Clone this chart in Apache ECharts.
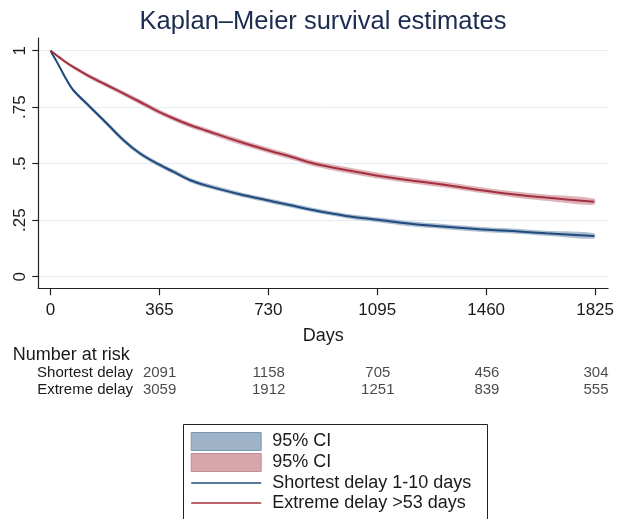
<!DOCTYPE html>
<html><head><meta charset="utf-8">
<script src="https://cdn.jsdelivr.net/npm/echarts@6/dist/echarts.min.js"></script>
<style>html,body{margin:0;padding:0;background:#fff}#c{width:617px;height:519px}</style>
</head><body><div id="c"></div>
<script>
// ---- data ----
const days = [0, 15, 32, 48, 76, 132, 188, 244, 299, 355, 411, 467, 523, 634, 745, 801, 879, 991, 1102, 1214, 1325, 1437, 1548, 1660, 1822];
const survShort = [1, 0.965, 0.925, 0.885, 0.826, 0.752, 0.679, 0.605, 0.546, 0.502, 0.465, 0.428, 0.403, 0.365, 0.333, 0.317, 0.295, 0.269, 0.251, 0.233, 0.221, 0.210, 0.202, 0.192, 0.180];
const ciLoShort = [1, 0.960, 0.919, 0.878, 0.818, 0.743, 0.669, 0.595, 0.536, 0.492, 0.455, 0.418, 0.393, 0.355, 0.323, 0.307, 0.285, 0.259, 0.240, 0.222, 0.210, 0.199, 0.191, 0.181, 0.168];
const ciHiShort = [1, 0.970, 0.931, 0.892, 0.834, 0.761, 0.689, 0.615, 0.556, 0.512, 0.475, 0.438, 0.413, 0.375, 0.343, 0.327, 0.305, 0.279, 0.262, 0.244, 0.232, 0.221, 0.213, 0.203, 0.192];
const survExtreme = [1, 0.985, 0.968, 0.952, 0.928, 0.885, 0.848, 0.811, 0.774, 0.735, 0.701, 0.671, 0.646, 0.597, 0.553, 0.533, 0.502, 0.472, 0.446, 0.425, 0.406, 0.384, 0.365, 0.350, 0.332];
const ciLoExtreme = [1, 0.980, 0.962, 0.945, 0.920, 0.876, 0.838, 0.801, 0.763, 0.724, 0.690, 0.660, 0.635, 0.585, 0.541, 0.521, 0.490, 0.459, 0.433, 0.412, 0.393, 0.371, 0.352, 0.336, 0.318];
const ciHiExtreme = [1, 0.990, 0.974, 0.959, 0.936, 0.894, 0.858, 0.821, 0.785, 0.746, 0.712, 0.682, 0.657, 0.609, 0.565, 0.545, 0.514, 0.485, 0.459, 0.438, 0.419, 0.397, 0.378, 0.364, 0.346];

const xTicks = [0, 365, 730, 1095, 1460, 1825];
const yTicks = [0, 0.25, 0.5, 0.75, 1];
const yTickLabels = ['0', '.25', '.5', '.75', '1'];

const riskGroups = ['Shortest delay', 'Extreme delay'];
const riskShort = [2091, 1158, 705, 456, 304];
const riskExtreme = [3059, 1912, 1251, 839, 555];

const seriesNames = ['Shortest delay 1-10 days', 'Extreme delay >53 days'];
const ciNames = ['95% CI (shortest)', '95% CI (extreme)'];

// ---- styling ----
const FONT = '"Liberation Sans", Arial, Helvetica, sans-serif';
const TXT = '#1a1a1a';
const BLUE = '#1f4a7c', RED = '#a3303e';
const BLUE_CI = '#9fb3c8', RED_CI = '#d7a6ad';
const BLUE_CI_B = '#7f98b2', RED_CI_B = '#c48b93';

function bandSeries(name, lo, hi, color) {
  const data = days.map((d, i) => [d, lo[i], hi[i]]);
  return {
    name: name, type: 'custom', xAxisIndex: 0, yAxisIndex: 0,
    itemStyle: { color: color },
    encode: { x: 0, y: [1, 2] },
    data: data,
    z: 2,
    renderItem: function (params, api) {
      if (params.dataIndex !== 0) return null;
      const pts = [];
      for (let i = 0; i < data.length; i++) pts.push(api.coord([data[i][0], data[i][2]]));
      for (let i = data.length - 1; i >= 0; i--) pts.push(api.coord([data[i][0], data[i][1]]));
      return { type: 'polygon', shape: { points: pts, smooth: 0.3 }, style: { fill: color, opacity: 0.85 } };
    }
  };
}

function lineSeries(name, surv, color) {
  return {
    name: name, type: 'line', xAxisIndex: 0, yAxisIndex: 0,
    data: days.map((d, i) => [d, surv[i]]),
    showSymbol: false, symbol: 'none', smooth: 0.3,
    lineStyle: { color: color, width: 2 }, itemStyle: { color: color }, z: 3
  };
}

function riskSeries(row, values) {
  return {
    type: 'scatter', xAxisIndex: 1, yAxisIndex: 1, silent: true,
    symbolSize: 1, itemStyle: { color: 'rgba(0,0,0,0)' },
    // numbers sit under the tick columns 365 ... 1825 as in the figure
    data: values.map((v, i) => [xTicks[i + 1], row, v]),
    label: { show: true, position: 'inside', formatter: p => String(p.value[2]),
      color: TXT, fontSize: 15, fontFamily: FONT }
  };
}

const chart = echarts.init(document.getElementById('c'), null, { renderer: 'canvas' });
chart.setOption({
  backgroundColor: '#fff',
  animation: false,
  textStyle: { fontFamily: FONT },
  title: {
    text: 'Kaplan\u2013Meier survival estimates', left: 323, top: 9, textAlign: 'center', padding: 0,
    textStyle: { fontSize: 25.5, fontWeight: 'normal', color: '#1c2b50', fontFamily: FONT }
  },
  grid: [
    { left: 38.3, right: 8, top: 38, bottom: 230.7 },
    { left: 38.3, right: 8, top: 365, height: 33.4 }
  ],
  xAxis: [{
    type: 'value', gridIndex: 0, min: -40.8, max: 1868.5,
    name: 'Days', nameLocation: 'middle', nameGap: 39,
    nameTextStyle: { fontSize: 18, color: TXT, fontFamily: FONT },
    axisLine: { show: true, onZero: false, lineStyle: { color: '#222', width: 1.2 } },
    axisTick: { show: true, customValues: xTicks, length: 7, lineStyle: { color: '#222', width: 1.2 } },
    axisLabel: { customValues: xTicks, margin: 14, fontSize: 17, color: TXT, fontFamily: FONT,
      formatter: v => String(v) },
    splitLine: { show: false }
  }, {
    type: 'value', gridIndex: 1, min: -40.8, max: 1868.5, show: false
  }],
  yAxis: [{
    type: 'value', gridIndex: 0, min: -0.0513, max: 1.056,
    axisLine: { show: true, onZero: false, lineStyle: { color: '#222', width: 1.2 } },
    axisTick: { show: true, customValues: yTicks, length: 6, lineStyle: { color: '#222', width: 1.2 } },
    axisLabel: { customValues: yTicks, rotate: 90, margin: 9, fontSize: 17, color: TXT, fontFamily: FONT,
      formatter: v => { const k = yTicks.findIndex(t => Math.abs(t - v) < 1e-9); return k >= 0 ? yTickLabels[k] : ''; } },
    splitLine: { show: true, lineStyle: { color: '#e4edf1', width: 1 } }
  }, {
    type: 'category', gridIndex: 1, data: riskGroups, inverse: true, offset: -96.7,
    axisLine: { show: false }, axisTick: { show: false }, splitLine: { show: false },
    axisLabel: { interval: 0, margin: 2, fontSize: 15, color: TXT, fontFamily: FONT }
  }],
  legend: {
    orient: 'vertical', left: 190.7, top: 432, padding: 0,
    itemWidth: 70, itemHeight: 18, itemGap: 2,
    formatter: n => n.indexOf('95% CI') === 0 ? '95% CI' : n,
    textStyle: { fontSize: 18, color: TXT, fontFamily: FONT, padding: [0, 0, 0, 6] },
    data: [
      { name: ciNames[0], icon: 'rect', itemStyle: { color: BLUE_CI, borderColor: BLUE_CI_B, borderWidth: 1 } },
      { name: ciNames[1], icon: 'rect', itemStyle: { color: RED_CI, borderColor: RED_CI_B, borderWidth: 1 } },
      { name: seriesNames[0], icon: 'path://M0,0L0,0M0,8.2h70v1.6h-70zM0,18L0,18', itemStyle: { color: BLUE } },
      { name: seriesNames[1], icon: 'path://M0,0L0,0M0,8.2h70v1.6h-70zM0,18L0,18', itemStyle: { color: RED } }
    ],
    selectedMode: false
  },
  graphic: [
    { type: 'rect', z: -10, shape: { x: 183.5, y: 424.5, width: 304, height: 130 },
      style: { fill: '#fff', stroke: '#222', lineWidth: 1 }, silent: true },
    { type: 'text', left: 12.7, top: 346, silent: true,
      style: { text: 'Number at risk', fontSize: 18, fill: TXT, fontFamily: FONT } }
  ],
  series: [
    bandSeries(ciNames[0], ciLoShort, ciHiShort, BLUE_CI),
    bandSeries(ciNames[1], ciLoExtreme, ciHiExtreme, RED_CI),
    lineSeries(seriesNames[0], survShort, BLUE),
    lineSeries(seriesNames[1], survExtreme, RED),
    riskSeries(riskGroups[0], riskShort),
    riskSeries(riskGroups[1], riskExtreme)
  ]
});
</script></body></html>
